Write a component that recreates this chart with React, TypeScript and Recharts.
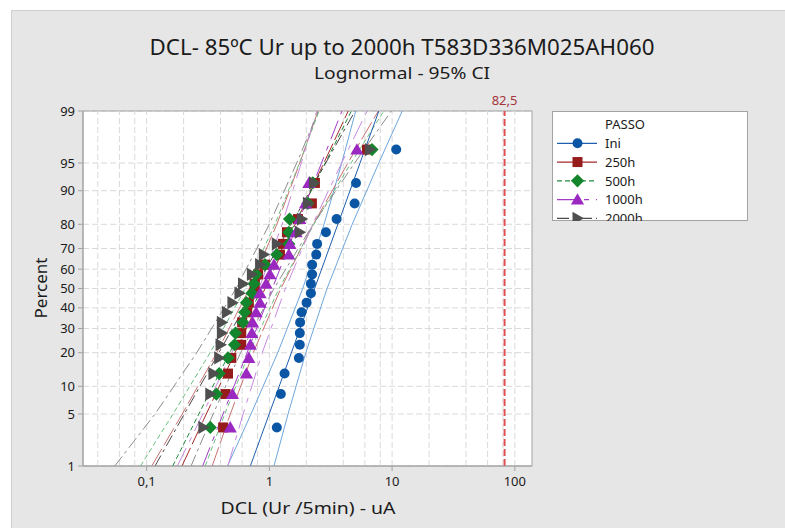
import React from "react";
import {
  ComposedChart, Scatter, Line, XAxis, YAxis, CartesianGrid, ReferenceLine, ReferenceArea,
} from "recharts";

// Percent (median rank) of each of the 20 points in a group, lowest first
const PCT_RANKS = [
  3.43, 8.33, 13.24, 18.14, 23.04, 27.94, 32.84, 37.75, 42.65, 47.55,
  52.45, 57.35, 62.25, 67.16, 72.06, 76.96, 81.86, 86.76, 91.67, 96.57,
];

// DCL values (uA) per step, sorted
const INI = [1.15, 1.24, 1.33, 1.74, 1.77, 1.77, 1.78, 1.83, 2.01, 2.18, 2.18, 2.23, 2.23, 2.41, 2.45, 2.89, 3.53, 4.95, 5.08, 10.8];
const H250 = [0.42, 0.44, 0.46, 0.49, 0.59, 0.59, 0.6, 0.66, 0.68, 0.75, 0.76, 0.81, 0.92, 1.22, 1.29, 1.39, 1.71, 2.22, 2.35, 6.24];
const H500 = [0.33, 0.37, 0.39, 0.46, 0.52, 0.53, 0.61, 0.63, 0.65, 0.72, 0.75, 0.78, 0.92, 1.15, 1.44, 1.44, 1.46, 2.06, 2.26, 6.86];
const H1000 = [0.48, 0.5, 0.65, 0.68, 0.7, 0.72, 0.73, 0.78, 0.84, 0.84, 0.94, 1.01, 1.09, 1.44, 1.47, 1.65, 1.77, 1.97, 2.1, 5.17];
const H2000 = [0.29, 0.33, 0.35, 0.39, 0.4, 0.41, 0.41, 0.45, 0.5, 0.57, 0.61, 0.72, 0.84, 0.9, 1.15, 1.77, 1.84, 2.06, 2.31, 6.6];

// fitted lines: value at 1% and 99%
const FIT_PCT = [1, 99];
const INI_FIT = [0.7, 7.8];
const H250_FIT = [0.194, 4.39];
const H500_FIT = [0.163, 4.66];
const H1000_FIT = [0.286, 3.9];
const H2000_FIT = [0.117, 4.99];

// 95% CI bands, read at these percents
const CI_PCT = [1, 5, 20, 50, 80, 95, 99];
const INI_LO = [0.456, 0.709, 1.17, 1.87, 2.79, 3.89, 5.05];
const INI_HI = [1.09, 1.42, 1.98, 2.95, 4.73, 7.79, 12.1];
const H250_LO = [0.11, 0.195, 0.373, 0.688, 1.15, 1.77, 2.49];
const H250_HI = [0.342, 0.481, 0.739, 1.24, 2.28, 4.36, 7.72];
const H500_LO = [0.089, 0.164, 0.329, 0.636, 1.11, 1.76, 2.54];
const H500_HI = [0.3, 0.433, 0.686, 1.2, 2.31, 4.63, 8.56];
const H1000_LO = [0.178, 0.287, 0.494, 0.825, 1.27, 1.82, 2.43];
const H1000_HI = [0.459, 0.611, 0.875, 1.35, 2.25, 3.88, 6.26];
const H2000_LO = [0.055, 0.117, 0.256, 0.535, 1.0, 1.67, 2.52];
const H2000_HI = [0.23, 0.348, 0.583, 1.09, 2.27, 4.95, 9.86];

const PCT_TICKS = [1, 5, 10, 20, 30, 40, 50, 60, 70, 80, 90, 95, 99];
const X_TICKS = [0.1, 1, 10, 100];
const X_TICK_LABELS = ["0,1", "1", "10", "100"];
const X_GRID = [0.04, 0.06, 0.08, 0.1, 0.2, 0.4, 0.6, 0.8, 1, 2, 4, 6, 8, 10, 20, 40, 60, 80, 100];
const LIMIT = 82.5;

// inverse normal CDF (Acklam) -> probability scale of the Y axis
function probit(p: number): number {
  const a = [-39.69683028665376, 220.9460984245205, -275.9285104469687, 138.357751867269, -30.66479806614716, 2.506628277459239];
  const b = [-54.47609879822406, 161.5858368580409, -155.6989798598866, 66.80131188771972, -13.28068155288572];
  const c = [-0.007784894002430293, -0.3223964580411365, -2.400758277161838, -2.549732539343734, 4.374664141464968, 2.938163982698783];
  const d = [0.007784695709041462, 0.3224671290700398, 2.445134137142996, 3.754408661907416];
  const lo = 0.02425;
  if (p < lo) {
    const q = Math.sqrt(-2 * Math.log(p));
    return (((((c[0] * q + c[1]) * q + c[2]) * q + c[3]) * q + c[4]) * q + c[5]) /
      ((((d[0] * q + d[1]) * q + d[2]) * q + d[3]) * q + 1);
  }
  if (p <= 1 - lo) {
    const q = p - 0.5;
    const r = q * q;
    return (((((a[0] * r + a[1]) * r + a[2]) * r + a[3]) * r + a[4]) * r + a[5]) * q /
      (((((b[0] * r + b[1]) * r + b[2]) * r + b[3]) * r + b[4]) * r + 1);
  }
  const q = Math.sqrt(-2 * Math.log(1 - p));
  return -(((((c[0] * q + c[1]) * q + c[2]) * q + c[3]) * q + c[4]) * q + c[5]) /
    ((((d[0] * q + d[1]) * q + d[2]) * q + d[3]) * q + 1);
}

const Z_MIN = probit(0.01);
const Z_MAX = probit(0.99);
const Y_TICKS = PCT_TICKS.map((p) => probit(p / 100));
const X_MIN = 0.0303;
const X_MAX = 138;

const pts = (xs: number[], pcts: number[]) => xs.map((x, i) => ({ x, z: probit(pcts[i] / 100) }));

type Kind = "circle" | "square" | "diamond" | "triangle" | "right";

const SERIES = [
  { name: "Ini", values: INI, fit: INI_FIT, lo: INI_LO, hi: INI_HI, kind: "circle" as Kind, color: "#0b56a4", fitColor: "#1f5fad", ciColor: "#6ea6dc", dash: undefined },
  { name: "250h", values: H250, fit: H250_FIT, lo: H250_LO, hi: H250_HI, kind: "square" as Kind, color: "#961b1b", fitColor: "#a52a2a", ciColor: "#c97070", dash: "20 4" },
  { name: "500h", values: H500, fit: H500_FIT, lo: H500_LO, hi: H500_HI, kind: "diamond" as Kind, color: "#13852c", fitColor: "#1f8c3c", ciColor: "#6cbf80", dash: "5 3" },
  { name: "1000h", values: H1000, fit: H1000_FIT, lo: H1000_LO, hi: H1000_HI, kind: "triangle" as Kind, color: "#9b28c0", fitColor: "#a23cc6", ciColor: "#c88ae0", dash: "20 7 5 7" },
  { name: "2000h", values: H2000, fit: H2000_FIT, lo: H2000_LO, hi: H2000_HI, kind: "right" as Kind, color: "#4f4f4f", fitColor: "#4a4a4a", ciColor: "#8c8c8c", dash: "12 4 3 4" },
];

function Glyph({ kind, cx, cy, color }: { kind: Kind; cx: number; cy: number; color: string }) {
  if (cx == null || cy == null) return <g />;
  switch (kind) {
    case "circle":
      return <circle cx={cx} cy={cy} r={5} fill={color} />;
    case "square":
      return <rect x={cx - 5} y={cy - 5} width={10} height={10} fill={color} />;
    case "diamond":
      return <polygon points={`${cx},${cy - 6.6} ${cx + 6.6},${cy} ${cx},${cy + 6.6} ${cx - 6.6},${cy}`} fill={color} />;
    case "triangle":
      return <polygon points={`${cx},${cy - 6.4} ${cx + 6.6},${cy + 5} ${cx - 6.6},${cy + 5}`} fill={color} />;
    default:
      return <polygon points={`${cx - 5},${cy - 6.6} ${cx + 6.4},${cy} ${cx - 5},${cy + 6.6}`} fill={color} />;
  }
}

const FONT = "'Segoe UI', 'Noto Sans', 'Open Sans', sans-serif";
const TEXT = "#1b1b1b";

export default function App() {
  return (
    <div style={{ position: "absolute", left: 0, top: 0, width: 785, height: 528, background: "#fff", fontFamily: FONT, overflow: "hidden" }}>
      <div style={{ position: "absolute", left: 11, top: 10, width: 780, height: 530, background: "#e6e6e6", borderLeft: "1px solid #cfcfcf", borderTop: "1px solid #cfcfcf" }} />

      <div style={{ position: "absolute", left: 0, top: 0 }}>
        <ComposedChart width={785} height={528} margin={{ top: 111, right: 253, bottom: 32, left: 43 }}>
          <CartesianGrid vertical={false} stroke="#d9d9d9" strokeDasharray="6 3" fill="#ffffff" fillOpacity={1} />
          {X_GRID.map((v) => (
            <ReferenceLine key={v} x={v} stroke="#d9d9d9" strokeDasharray="6 3" />
          ))}
          <XAxis
            type="number" dataKey="x" scale="log" domain={[X_MIN, X_MAX]} allowDataOverflow
            ticks={X_TICKS} interval={0} height={30} stroke="#a3a3a3" tickSize={5} tickMargin={6}
            tick={{ fill: TEXT, fontSize: 13 }}
            tickFormatter={(v: number) => X_TICK_LABELS[X_TICKS.findIndex((t) => Math.abs(t - v) < 1e-9)] ?? ""}
          />
          <YAxis
            type="number" dataKey="z" domain={[Z_MIN, Z_MAX]} allowDataOverflow
            ticks={Y_TICKS} interval={0} width={40} stroke="#a3a3a3" tickSize={5} tickMargin={3}
            tick={{ fill: TEXT, fontSize: 13 }}
            tickFormatter={(v: number) => {
              const i = Y_TICKS.findIndex((t) => Math.abs(t - v) < 1e-6);
              return i >= 0 ? String(PCT_TICKS[i]) : "";
            }}
          />
          {SERIES.map((s) => (
            <Line key={s.name + "lo"} data={pts(s.lo, CI_PCT)} dataKey="z" type="linear" stroke={s.ciColor}
              strokeWidth={1} strokeDasharray={s.dash} dot={false} activeDot={false} isAnimationActive={false} />
          ))}
          {SERIES.map((s) => (
            <Line key={s.name + "hi"} data={pts(s.hi, CI_PCT)} dataKey="z" type="linear" stroke={s.ciColor}
              strokeWidth={1} strokeDasharray={s.dash} dot={false} activeDot={false} isAnimationActive={false} />
          ))}
          {SERIES.map((s) => (
            <Line key={s.name + "fit"} data={pts(s.fit, FIT_PCT)} dataKey="z" type="linear" stroke={s.fitColor}
              strokeWidth={1} strokeDasharray={s.dash} dot={false} activeDot={false} isAnimationActive={false} />
          ))}
          {SERIES.map((s) => (
            <Scatter key={s.name} name={s.name} data={pts(s.values, PCT_RANKS)} dataKey="z" fill={s.color}
              isAnimationActive={false}
              shape={(p: any) => <Glyph kind={s.kind} cx={p.cx} cy={p.cy} color={s.color} />} />
          ))}
          <ReferenceLine x={LIMIT} stroke="#e04f52" strokeWidth={2} strokeDasharray="7 3"
            label={{ value: "82,5", position: "top", fill: "#a3343a", fontSize: 13, offset: 6 }} />
          <ReferenceArea x1={X_MIN} x2={X_MAX} y1={Z_MIN} y2={Z_MAX} fill="none" stroke="#a3a3a3" strokeWidth={1} />
        </ComposedChart>
      </div>

      <svg width={785} height={528} style={{ position: "absolute", left: 0, top: 0, pointerEvents: "none" }} fontFamily={FONT}>
        <text x={402} y={55} textAnchor="middle" fontSize={22} fill={TEXT} textLength={505} lengthAdjust="spacingAndGlyphs">
          DCL- 85ºC Ur up to 2000h T583D336M025AH060
        </text>
        <text x={402} y={79} textAnchor="middle" fontSize={17} fill={TEXT} textLength={176} lengthAdjust="spacingAndGlyphs">
          Lognormal - 95% CI
        </text>
        <text x={308} y={514} textAnchor="middle" fontSize={17} fill={TEXT} textLength={175} lengthAdjust="spacingAndGlyphs">
          DCL (Ur /5min) - uA
        </text>
        <text transform="translate(47,288) rotate(-90)" textAnchor="middle" fontSize={17} fill={TEXT}>
          Percent
        </text>

        <defs>
          <clipPath id="legclip">
            <rect x={552} y={111} width={196} height={110} />
          </clipPath>
        </defs>
        <rect x={552.5} y={111.5} width={195} height={109} fill="#ffffff" stroke="#a3a3a3" />
        <g clipPath="url(#legclip)">
          <text x={605} y={129} fontSize={13} fill={TEXT}>PASSO</text>
          {SERIES.map((s, i) => {
            const cy = 143.3 + i * 18.75;
            return (
              <g key={s.name}>
                <line x1={557} x2={597} y1={cy} y2={cy} stroke={s.fitColor} strokeWidth={1.2} strokeDasharray={s.dash} />
                <Glyph kind={s.kind} cx={577.5} cy={cy} color={s.color} />
                <text x={605} y={cy + 4.7} fontSize={13} fill={TEXT}>{s.name}</text>
              </g>
            );
          })}
        </g>
      </svg>
    </div>
  );
}
